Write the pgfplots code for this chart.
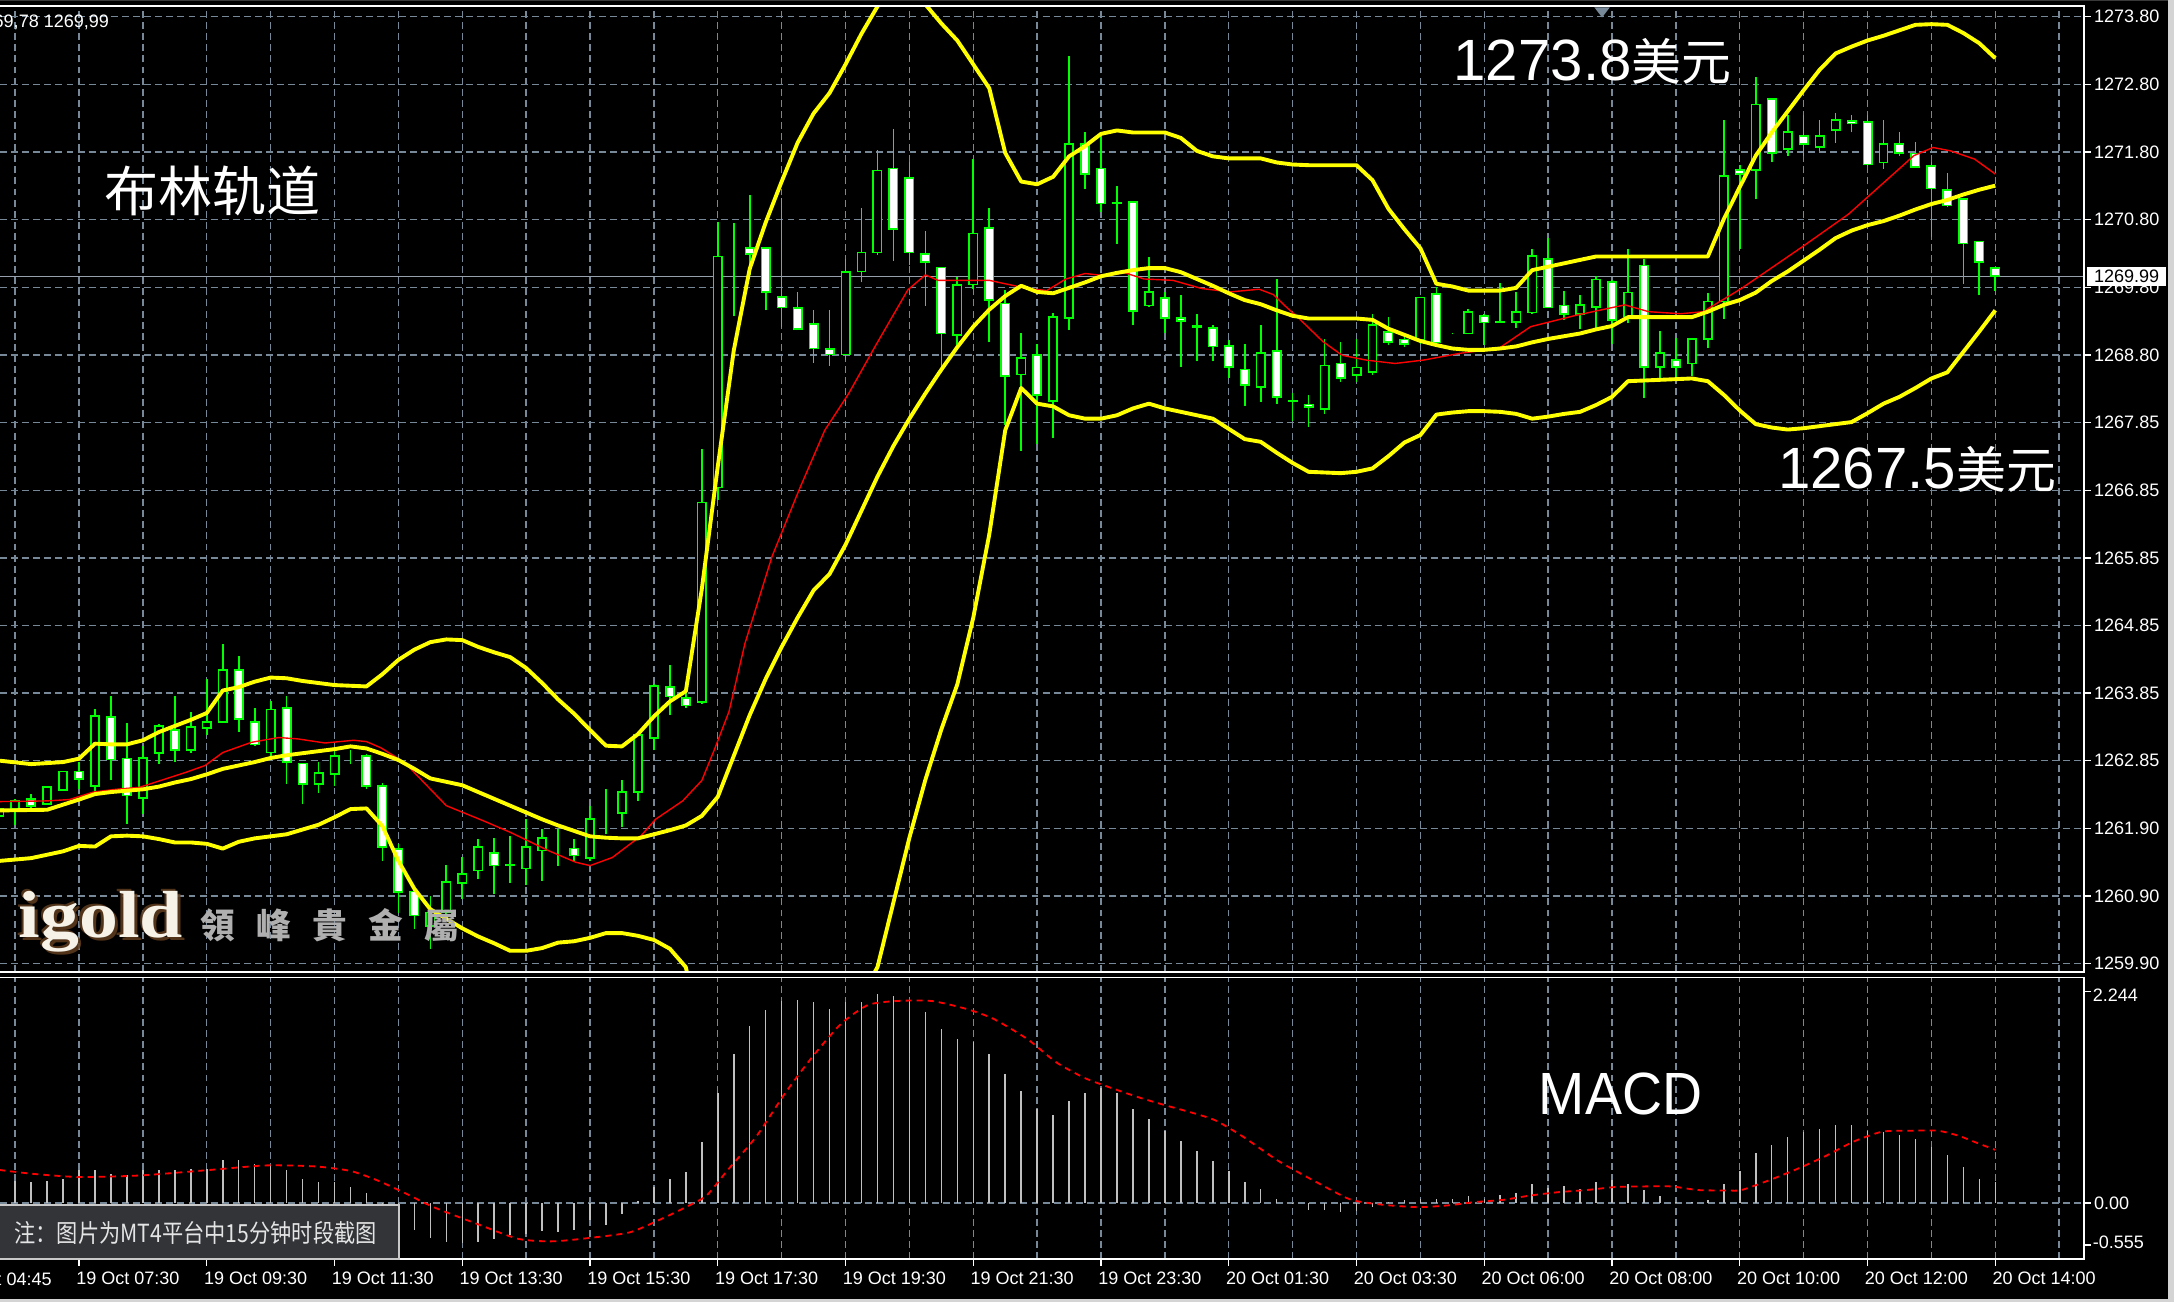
\documentclass[border=0pt]{standalone}
\usepackage{fontspec}
\setmainfont{Liberation Sans}
\newfontfamily\cjk{Noto Sans CJK SC}
\newfontfamily\cjktc{Noto Sans CJK TC}
\newfontfamily\logofont{Liberation Serif}
\usepackage{pgfplots}
\usepackage{pgfplotstable}
\pgfplotsset{compat=1.18}
\definecolor{gridc}{RGB}{119,136,153}
\definecolor{mtgreen}{RGB}{0,255,0}
\definecolor{mtyellow}{RGB}{255,255,0}
\definecolor{mtred}{RGB}{255,0,0}
\definecolor{silverc}{RGB}{192,192,192}
\definecolor{notebg}{RGB}{50,52,56}
\definecolor{notebd}{RGB}{200,200,200}
\definecolor{notetx}{RGB}{228,228,228}
\definecolor{pricel}{RGB}{150,160,172}
\definecolor{framec}{RGB}{212,212,212}
\definecolor{logobrown}{RGB}{95,60,30}
\definecolor{logowhite}{RGB}{246,242,232}
\definecolor{logogray}{RGB}{175,175,175}
\newcommand\lbl{\fontsize{6.5}{7.5}\selectfont}

\pgfplotstableread{
x o h l c
-5 1262.07 1262.22 1261.95 1262.17
-4 1262.17 1262.32 1261.93 1262.29
-3 1262.32 1262.39 1262.19 1262.22
-2 1262.24 1262.51 1262.23 1262.49
-1 1262.45 1262.72 1262.44 1262.72
0 1262.72 1262.86 1262.46 1262.61
1 1262.51 1263.64 1262.41 1263.54
2 1263.52 1263.83 1262.59 1262.90
3 1262.91 1263.43 1261.95 1262.37
4 1262.33 1263.10 1262.10 1262.92
5 1262.99 1263.42 1262.83 1263.39
6 1263.33 1263.83 1262.86 1263.04
7 1263.04 1263.60 1263.00 1263.37
8 1263.36 1264.08 1263.25 1263.45
9 1263.45 1264.60 1263.43 1264.21
10 1264.21 1264.42 1263.30 1263.49
11 1263.45 1263.66 1263.10 1263.12
12 1263.00 1263.76 1262.95 1263.63
13 1263.65 1263.83 1262.54 1262.86
14 1262.84 1262.84 1262.24 1262.54
15 1262.54 1262.86 1262.41 1262.70
16 1262.68 1263.03 1262.51 1262.95
17 1262.96 1263.03 1262.83 1262.96
18 1262.95 1262.98 1262.47 1262.51
19 1262.51 1262.55 1261.41 1261.61
20 1261.58 1261.66 1260.65 1260.95
21 1260.96 1260.99 1260.41 1260.61
22 1260.45 1260.90 1260.12 1260.65
23 1260.65 1261.35 1260.56 1261.10
24 1261.09 1261.46 1260.85 1261.22
25 1261.27 1261.73 1261.14 1261.61
26 1261.53 1261.74 1260.92 1261.34
27 1261.34 1261.78 1261.09 1261.35
28 1261.30 1262.02 1261.05 1261.61
29 1261.56 1261.88 1261.12 1261.75
30 1261.68 1261.88 1261.34 1261.68
31 1261.59 1261.73 1261.41 1261.49
32 1261.45 1262.22 1261.41 1262.02
33 1262.08 1262.46 1261.80 1262.08
34 1262.11 1262.59 1261.90 1262.42
35 1262.42 1263.26 1262.29 1263.26
36 1263.21 1264.00 1263.03 1263.98
37 1263.96 1264.28 1263.55 1263.82
38 1263.80 1263.93 1263.66 1263.69
39 1263.74 1267.45 1263.71 1266.67
40 1266.89 1270.78 1266.70 1270.28
41 1270.32 1270.77 1269.40 1270.32
42 1270.40 1271.18 1270.01 1270.32
43 1270.40 1270.40 1269.49 1269.76
44 1269.69 1271.14 1269.25 1269.53
45 1269.52 1269.76 1269.20 1269.22
46 1269.29 1269.49 1268.72 1268.93
47 1268.92 1269.49 1268.68 1268.84
48 1268.84 1270.24 1268.76 1270.05
49 1270.06 1270.99 1269.90 1270.34
50 1270.34 1271.85 1270.30 1271.54
51 1271.57 1272.15 1270.22 1270.68
52 1271.43 1271.67 1270.15 1270.34
53 1270.32 1270.65 1269.56 1270.20
54 1270.12 1270.12 1268.65 1269.15
55 1269.13 1269.98 1268.98 1269.86
56 1269.87 1271.71 1269.81 1270.62
57 1270.70 1270.99 1269.02 1269.64
58 1269.59 1269.79 1267.81 1268.53
59 1268.55 1269.15 1267.43 1268.79
60 1268.83 1269.00 1267.53 1268.25
61 1268.16 1269.45 1267.62 1269.39
62 1269.38 1273.22 1269.20 1271.93
63 1271.93 1272.10 1271.27 1271.49
64 1271.57 1272.07 1270.93 1271.06
65 1271.06 1271.32 1270.47 1271.07
66 1271.08 1271.08 1269.27 1269.48
67 1269.56 1270.27 1269.54 1269.76
68 1269.67 1269.76 1269.15 1269.38
69 1269.38 1269.71 1268.66 1269.33
70 1269.25 1269.44 1268.74 1269.26
71 1269.23 1269.27 1268.74 1268.96
72 1268.97 1269.06 1268.49 1268.66
73 1268.62 1268.99 1268.09 1268.39
74 1268.36 1269.28 1268.15 1268.86
75 1268.89 1269.95 1268.12 1268.22
76 1268.15 1268.27 1267.86 1268.16
77 1268.11 1268.25 1267.78 1268.07
78 1268.04 1269.07 1267.97 1268.68
79 1268.71 1269.03 1268.44 1268.50
80 1268.54 1269.07 1268.44 1268.65
81 1268.58 1269.44 1268.54 1269.27
82 1269.17 1269.39 1268.98 1269.03
83 1269.06 1269.12 1268.95 1269.00
84 1269.05 1269.68 1269.00 1269.68
85 1269.73 1269.83 1269.00 1269.02
86 1269.15 1269.16 1269.14 1269.15
87 1269.15 1269.51 1269.15 1269.47
88 1269.41 1269.44 1268.98 1269.31
89 1269.31 1269.89 1269.31 1269.32
90 1269.32 1269.76 1269.23 1269.47
91 1269.46 1270.39 1269.44 1270.29
92 1270.24 1270.55 1269.52 1269.53
93 1269.56 1269.77 1269.35 1269.44
94 1269.44 1269.71 1269.22 1269.57
95 1269.54 1270.00 1269.22 1269.94
96 1269.91 1269.93 1269.00 1269.35
97 1269.40 1270.39 1269.30 1269.75
98 1270.15 1270.25 1268.20 1268.66
99 1268.66 1269.18 1268.49 1268.86
100 1268.76 1269.08 1268.45 1268.66
101 1268.71 1269.08 1268.52 1269.07
102 1269.07 1269.75 1268.93 1269.62
103 1269.62 1272.29 1269.37 1271.46
104 1271.55 1271.63 1270.39 1271.49
105 1271.55 1272.92 1271.12 1272.51
106 1272.59 1272.59 1271.66 1271.80
107 1271.86 1272.36 1271.76 1272.11
108 1272.05 1272.36 1271.76 1271.93
109 1271.89 1272.29 1271.83 1272.05
110 1272.14 1272.38 1271.95 1272.28
111 1272.27 1272.36 1272.10 1272.23
112 1272.25 1272.36 1271.61 1271.63
113 1271.66 1272.29 1271.57 1271.93
114 1271.93 1272.11 1271.76 1271.80
115 1271.79 1271.96 1271.58 1271.59
116 1271.61 1271.66 1270.56 1271.28
117 1271.26 1271.50 1271.00 1271.03
118 1271.12 1271.12 1269.88 1270.47
119 1270.50 1270.50 1269.71 1270.20
120 1270.11 1270.11 1269.78 1269.99
}\candles

\pgfplotstableread{
x v
-5 0.22
-4 0.225
-3 0.21
-2 0.225
-1 0.24
0 0.325
1 0.325
2 0.29
3 0.275
4 0.325
5 0.325
6 0.325
7 0.34
8 0.34
9 0.425
10 0.425
11 0.39
12 0.375
13 0.325
14 0.24
15 0.21
16 0.21
17 0.16
18 0.10
19 -0.04
20 -0.205
21 -0.27
22 -0.345
23 -0.39
24 -0.40
25 -0.39
26 -0.355
27 -0.32
28 -0.305
29 -0.28
30 -0.29
31 -0.27
32 -0.17
33 -0.22
34 -0.11
35 0.02
36 0.16
37 0.24
38 0.31
39 0.61
40 1.10
41 1.48
42 1.76
43 1.92
44 2.01
45 2.02
46 2.00
47 1.93
48 2.00
49 2.00
50 2.08
51 2.06
52 2.01
53 1.90
54 1.73
55 1.63
56 1.60
57 1.48
58 1.28
59 1.12
60 0.94
61 0.88
62 1.02
63 1.10
64 1.14
65 1.10
66 0.94
67 0.84
68 0.72
69 0.62
70 0.52
71 0.42
72 0.32
73 0.21
74 0.14
75 0.04
76 0.005
77 -0.07
78 -0.07
79 -0.09
80 -0.08
81 -0.04
82 0.01
83 0.03
84 0.04
85 0.04
86 0.04
87 0.07
88 0.04
89 0.08
90 0.10
91 0.19
92 0.15
93 0.17
94 0.14
95 0.21
96 0.23
97 0.19
98 0.13
99 0.07
100 0.01
101 0.01
102 0.03
103 0.19
104 0.32
105 0.50
106 0.58
107 0.66
108 0.71
109 0.74
110 0.78
111 0.78
112 0.72
113 0.71
114 0.68
115 0.64
116 0.56
117 0.48
118 0.36
119 0.24
120 0.21
}\macdtab

\pgfplotsset{
  mtbase/.style={scale only axis, width=751.5pt, xmin=-4.95, xmax=125.55, anchor=south west},
  mainpos/.style={mtbase, at={(0pt,119pt)}, height=348.25pt},
  mtgrid/.style={draw=gridc, line width=0.5pt, dash pattern=on 2.5pt off 1.5pt},
}

\begin{document}
\begin{tikzpicture}
\useasboundingbox (0,0) rectangle (784pt,469.5pt);
\fill[black] (0,0) rectangle (784pt,469.5pt);
\begin{scope}
\clip (0,0) rectangle (784pt,469.5pt);

% ---------- main price panel: grid, labels, price line, wicks
\begin{axis}[mainpos,
  ymin=1259.78, ymax=1273.953,
  axis line style={draw=none},
  xtick={-4,0,...,124}, xticklabels={}, xtick style={draw=none},
  xmajorgrids, ymajorgrids, grid style={mtgrid},
  ytick={1259.900,1260.893,1261.886,1262.879,1263.871,1264.864,1265.857,1266.850,1267.843,1268.836,1269.829,1270.821,1271.814,1272.807,1273.800},
  yticklabels={1259.90,1260.90,1261.90,1262.85,1263.85,1264.85,1265.85,1266.85,1267.85,1268.80,1269.80,1270.80,1271.80,1272.80,1273.80},
  ytick pos=right, tick align=outside, major tick length=2.5pt,
  ytick style={draw=white, line width=0.5pt},
  yticklabel style={font=\lbl, text=white, anchor=west, inner sep=0pt, xshift=1pt},
]
\addplot[pricel, line width=0.5pt, forget plot] coordinates {(-6,1269.99) (127,1269.99)};
\addplot[draw=none, mark=none,
  error bars/.cd, y dir=plus, y explicit, error mark=none,
  error bar style={draw=mtgreen, line width=0.6pt, solid}]
  table[x=x, y=l, y error expr=\thisrow{h}-\thisrow{l}] {\candles};
\end{axis}

% ---------- candle bodies (floating stacked bars, offset 1259)
\begin{axis}[mainpos, ymin=0.78, ymax=14.953, hide axis, ybar stacked, bar width=3pt]
\addplot[draw=none, fill=none] table[x=x, y expr={min(\thisrow{o},\thisrow{c})-1259}] {\candles};
\addplot[fill=black, draw=mtgreen, line width=0.6pt] table[x=x, y expr={max(\thisrow{c}-\thisrow{o},0)}] {\candles};
\addplot[fill=white, draw=mtgreen, line width=0.6pt] table[x=x, y expr={max(\thisrow{o}-\thisrow{c},0)}] {\candles};
\end{axis}

% ---------- Bollinger bands and moving average
\begin{axis}[mainpos, ymin=1259.78, ymax=1273.953, hide axis]
\addplot[mtred, line width=0.5pt, line join=round] coordinates {
(-4.95,1262.28) (-2.0,1262.29) (-0.6,1262.31) (0.9,1262.42) (2.3,1262.46) (3.8,1262.49) (6.7,1262.71) (7.9,1262.81) (9.0,1263.00) (10.8,1263.15) (12.5,1263.22) (13.7,1263.20) (15.4,1263.14) (17.2,1263.18) (18.0,1263.16) (18.9,1263.07) (20.4,1262.85) (23.0,1262.22) (25.3,1262.00) (27.0,1261.83) (29.4,1261.56) (31.1,1261.39) (32.0,1261.34) (33.4,1261.46) (35.2,1261.78) (36.1,1262.02) (37.8,1262.29) (39.0,1262.59) (39.8,1263.05) (40.7,1263.60) (41.7,1264.60) (43.4,1265.88) (45.1,1266.86) (46.7,1267.73) (48.2,1268.27) (49.9,1268.98) (51.9,1269.79) (53.0,1270.01) (53.8,1269.93) (55.1,1269.93) (57.0,1269.93) (58.2,1269.87) (59.4,1269.81) (60.6,1269.78) (61.8,1269.95) (63.0,1270.03) (64.2,1270.00) (65.5,1270.04) (66.7,1269.95) (68.5,1269.93) (70.3,1269.81) (72.1,1269.76) (73.9,1269.80) (74.8,1269.72) (75.5,1269.56) (76.4,1269.37) (77.9,1269.03) (79.1,1268.83) (80.6,1268.76) (82.4,1268.71) (84.2,1268.76) (86.5,1268.86) (88.9,1268.93) (90.9,1269.25) (93.8,1269.42) (96.8,1269.57) (98.3,1269.47) (100.3,1269.44) (101.7,1269.47) (104.1,1269.81) (107.9,1270.42) (110.8,1270.90) (112.9,1271.34) (114.9,1271.76) (116.1,1271.88) (117.2,1271.83) (118.7,1271.71) (120.0,1271.49)};
\addplot[mtyellow, line width=1.4pt, line join=round] coordinates {
(-4.95,1262.88) (-3,1262.83) (-1,1262.86) (0,1262.91) (1,1263.13) (2,1263.12) (3,1263.12) (4,1263.18) (5,1263.30) (6,1263.39) (7,1263.48) (8,1263.58) (9,1263.91) (10,1263.96) (11,1264.04) (12,1264.10) (13,1264.09) (14,1264.05) (15,1264.02) (16,1263.99) (17,1263.98) (18,1263.97) (19,1264.15) (20,1264.36) (21,1264.51) (22,1264.62) (23,1264.66) (24,1264.65) (25,1264.55) (26,1264.47) (27,1264.40) (28,1264.24) (29,1264.02) (30,1263.78) (31,1263.57) (32,1263.33) (33,1263.10) (34,1263.09) (35,1263.27) (36,1263.53) (37,1263.75) (38,1263.90) (39,1265.40) (40,1267.20) (41,1268.90) (42,1270.10) (43,1270.78) (44,1271.38) (45,1271.95) (46,1272.38) (47,1272.68) (48,1273.10) (49,1273.55) (50,1273.95) (51,1274.25) (52,1274.25) (53,1273.98) (54,1273.70) (55,1273.45) (56,1273.10) (57,1272.75) (58,1271.80) (59,1271.38) (60,1271.34) (61,1271.45) (62,1271.75) (63,1271.90) (64,1272.08) (65,1272.13) (66,1272.10) (67,1272.10) (68,1272.10) (69,1272.02) (70,1271.83) (71,1271.75) (72,1271.72) (73,1271.72) (74,1271.72) (75,1271.66) (76,1271.63) (77,1271.62) (78,1271.62) (79,1271.62) (80,1271.62) (81,1271.40) (82,1270.98) (83,1270.68) (84,1270.40) (85,1269.88) (86,1269.84) (87,1269.78) (88,1269.78) (89,1269.78) (90,1269.82) (91,1270.08) (92,1270.13) (93,1270.18) (94,1270.23) (95,1270.28) (96,1270.28) (97,1270.28) (98,1270.28) (99,1270.28) (100,1270.28) (101,1270.28) (102,1270.28) (103,1270.83) (104,1271.30) (105,1271.76) (106,1272.10) (107,1272.41) (108,1272.72) (109,1273.02) (110,1273.26) (111,1273.36) (112,1273.45) (113,1273.52) (114,1273.60) (115,1273.68) (116,1273.69) (117,1273.68) (118,1273.56) (119,1273.41) (120,1273.19)};
\addplot[mtyellow, line width=1.4pt, line join=round] coordinates {
(-4.95,1262.15) (-2,1262.16) (0,1262.31) (1,1262.39) (2,1262.42) (3,1262.44) (4,1262.46) (5,1262.50) (6,1262.56) (7,1262.61) (8,1262.68) (9,1262.76) (10,1262.81) (11,1262.86) (12,1262.92) (13,1262.96) (14,1262.99) (15,1263.02) (16,1263.05) (17,1263.09) (18,1263.06) (19,1262.98) (20,1262.89) (21,1262.76) (22,1262.62) (23,1262.57) (24,1262.52) (25,1262.42) (26,1262.32) (27,1262.22) (28,1262.12) (29,1262.02) (30,1261.93) (31,1261.85) (32,1261.77) (33,1261.75) (34,1261.74) (35,1261.74) (36,1261.80) (37,1261.86) (38,1261.93) (39,1262.07) (40,1262.35) (41,1262.95) (42,1263.55) (43,1264.08) (44,1264.55) (45,1264.98) (46,1265.38) (47,1265.62) (48,1266.05) (49,1266.55) (50,1267.05) (51,1267.50) (52,1267.90) (53,1268.27) (54,1268.62) (55,1268.95) (56,1269.25) (57,1269.50) (58,1269.70) (59,1269.85) (60,1269.76) (61,1269.74) (62,1269.82) (63,1269.90) (64,1269.99) (65,1270.04) (66,1270.08) (67,1270.11) (68,1270.11) (69,1270.05) (70,1269.95) (71,1269.85) (72,1269.74) (73,1269.64) (74,1269.58) (75,1269.49) (76,1269.41) (77,1269.37) (78,1269.37) (79,1269.37) (80,1269.37) (81,1269.35) (82,1269.22) (83,1269.13) (84,1269.04) (85,1268.98) (86,1268.93) (87,1268.91) (88,1268.91) (89,1268.93) (90,1268.96) (91,1269.02) (92,1269.07) (93,1269.11) (94,1269.15) (95,1269.21) (96,1269.26) (97,1269.39) (98,1269.39) (99,1269.39) (100,1269.39) (101,1269.39) (102,1269.47) (103,1269.57) (104,1269.64) (105,1269.75) (106,1269.92) (107,1270.06) (108,1270.22) (109,1270.38) (110,1270.55) (111,1270.66) (112,1270.74) (113,1270.80) (114,1270.88) (115,1270.97) (116,1271.05) (117,1271.11) (118,1271.19) (119,1271.26) (120,1271.32)};
\addplot[mtyellow, line width=1.4pt, line join=round] coordinates {
(-4.95,1261.41) (-3,1261.45) (-1,1261.55) (0,1261.63) (1,1261.62) (2,1261.77) (3,1261.78) (4,1261.77) (5,1261.73) (6,1261.68) (7,1261.68) (8,1261.66) (9,1261.59) (10,1261.69) (11,1261.74) (12,1261.77) (13,1261.80) (14,1261.87) (15,1261.94) (16,1262.05) (17,1262.17) (18,1262.18) (19,1261.92) (20,1261.41) (21,1261.00) (22,1260.70) (23,1260.56) (24,1260.42) (25,1260.30) (26,1260.20) (27,1260.09) (28,1260.09) (29,1260.13) (30,1260.21) (31,1260.23) (32,1260.28) (33,1260.35) (34,1260.35) (35,1260.31) (36,1260.25) (37,1260.12) (38,1259.85) (39,1258.70) (40,1257.60) (42,1257.20) (44,1257.50) (46,1258.20) (48,1259.00) (50,1259.85) (51,1260.80) (52,1261.75) (53,1262.60) (54,1263.34) (55,1264.00) (56,1264.98) (57,1266.20) (58,1267.73) (59,1268.35) (60,1268.12) (61,1268.08) (62,1267.95) (63,1267.90) (64,1267.90) (65,1267.95) (66,1268.05) (67,1268.12) (68,1268.05) (69,1268.00) (70,1267.95) (71,1267.90) (72,1267.75) (73,1267.60) (74,1267.56) (75,1267.40) (76,1267.25) (77,1267.12) (78,1267.11) (79,1267.10) (80,1267.12) (81,1267.17) (82,1267.35) (83,1267.55) (84,1267.66) (85,1267.96) (86,1267.99) (87,1268.01) (88,1268.01) (89,1268.00) (90,1267.97) (91,1267.90) (92,1267.93) (93,1267.97) (94,1268.00) (95,1268.10) (96,1268.22) (97,1268.45) (98,1268.46) (99,1268.47) (100,1268.48) (101,1268.49) (102,1268.45) (103,1268.25) (104,1268.02) (105,1267.82) (106,1267.77) (107,1267.74) (108,1267.76) (109,1267.79) (110,1267.82) (111,1267.85) (112,1267.98) (113,1268.12) (114,1268.22) (115,1268.35) (116,1268.49) (117,1268.58) (118,1268.88) (119,1269.18) (120,1269.49)};
\end{axis}

% ---------- MACD panel
\begin{axis}[mtbase, at={(0pt,15.5pt)}, height=101.5pt,
  ymin=-0.555, ymax=2.244,
  axis line style={draw=none},
  xtick={0,8,...,120},
  xticklabels={19 Oct 07:30,19 Oct 09:30,19 Oct 11:30,19 Oct 13:30,19 Oct 15:30,19 Oct 17:30,19 Oct 19:30,19 Oct 21:30,19 Oct 23:30,20 Oct 01:30,20 Oct 03:30,20 Oct 06:00,20 Oct 08:00,20 Oct 10:00,20 Oct 12:00,20 Oct 14:00},
  minor xtick={-4,4,...,124},
  xmajorgrids, xminorgrids, ymajorgrids,
  grid style={mtgrid}, minor grid style={mtgrid},
  ytick={0}, yticklabels={0.00},
  xtick pos=left, ytick pos=right, tick align=outside,
  major tick length=2.5pt, minor tick length=0pt,
  tick style={draw=white, line width=0.5pt},
  xticklabel style={font=\lbl, text=white, anchor=north west, inner sep=0pt, xshift=-1.2pt, yshift=-2pt},
  yticklabel style={font=\lbl, text=white, anchor=west, inner sep=0pt, xshift=1pt},
]
\addplot[ycomb, draw=silverc, line width=0.55pt, mark=none] table[x=x, y=v] {\macdtab};
\addplot[mtred, line width=0.65pt, dash pattern=on 2.2pt off 1.8pt, smooth, tension=0.4] coordinates {
(-5,0.33) (-2.8,0.29) (0,0.26) (3.8,0.275) (8.2,0.33) (11.7,0.375) (14.8,0.365) (17,0.32) (18.7,0.225) (20.5,0.093) (22.2,-0.04) (24.9,-0.205) (27.5,-0.355) (29.7,-0.38) (32.3,-0.34) (34.5,-0.29) (36.3,-0.17) (38,-0.04) (39.3,0.076) (40.6,0.325) (42.4,0.66) (44.2,1.09) (45.9,1.45) (47.7,1.78) (49.4,1.97) (51.2,2.01) (53.4,2.01) (55.6,1.93) (57.3,1.83) (59.4,1.63) (61.2,1.40) (62.9,1.25) (64.2,1.17) (66.4,1.05) (68.1,0.97) (69.9,0.89) (71.2,0.82) (72.9,0.66) (75.1,0.42) (77.3,0.225) (79.5,0.043) (80.8,0) (82.1,-0.023) (83.9,-0.04) (85.7,-0.023) (87.4,0.01) (89.2,0.033) (90.9,0.076) (92.7,0.11) (94.4,0.13) (96.2,0.16) (97.9,0.166) (99.7,0.166) (101.4,0.13) (103.2,0.126) (104.1,0.13) (105.8,0.225) (107.6,0.34) (109.4,0.47) (111.1,0.61) (112.9,0.71) (114.6,0.72) (116.4,0.72) (117.7,0.67) (119,0.59) (120,0.53)};
\end{axis}

% ---------- panel borders and frame
\draw[white, line width=0.7pt] (-1pt,467.25pt) -- (751.5pt,467.25pt) -- (751.5pt,119pt) -- (-1pt,119pt);
\draw[white, line width=0.7pt] (-1pt,117pt) -- (751.5pt,117pt) -- (751.5pt,15.5pt) -- (-1pt,15.5pt);
\draw[white, line width=0.5pt] (751.5pt,112pt) -- (754pt,112pt);
\draw[white, line width=0.5pt] (751.5pt,20.5pt) -- (754pt,20.5pt);
\fill[gray!45!black] (0,469pt) rectangle (784pt,469.5pt);
\fill[framec] (781.8pt,0) rectangle (784pt,469.5pt);
\fill[framec] (0,0) rectangle (784pt,1pt);
\fill[gridc] (575pt,466.8pt) -- (580.5pt,466.8pt) -- (577.75pt,463.2pt) -- cycle;

% ---------- axis texts outside tick machinery
\node[font=\lbl, text=white, anchor=west, inner sep=0pt] at (754.5pt,110.5pt) {2.244};
\node[font=\lbl, text=white, anchor=west, inner sep=0pt] at (754.5pt,21.5pt) {-0.555};
\node[font=\lbl, text=white, anchor=north west, inner sep=0pt] at (-18.8pt,10.5pt) {19 Oct 04:45};
\node[font=\lbl, text=white, anchor=east, inner sep=0pt] at (39.5pt,461.5pt) {1269,78 1269,99};
\node[fill=white, text=black, font=\lbl, inner sep=0pt, anchor=west, minimum width=28.6pt, minimum height=6.8pt] at (752.4pt,369.8pt) {1269.99};

% ---------- annotations
\node[text=white, anchor=center, inner sep=0pt] at (76.75pt,400.5pt) {\cjk\fontsize{19.5}{20}\selectfont 布林轨道};
\node[text=white, anchor=base west, inner sep=0pt] at (524pt,440.5pt) {\fontsize{21}{22}\selectfont 1273.8{\cjk\fontsize{18}{18}\selectfont 美元}};
\node[text=white, anchor=base west, inner sep=0pt] at (641pt,293.5pt) {\fontsize{21}{22}\selectfont 1267.5{\cjk\fontsize{18}{18}\selectfont 美元}};
\node[text=white, anchor=base west, inner sep=0pt] at (554.75pt,67.5pt) {\scalebox{0.93}[1]{\fontsize{21.5}{22}\selectfont MACD}};

% note box
\draw[notebd, line width=0.8pt, fill=notebg] (-1pt,15.5pt) rectangle (143.75pt,35pt);
\node[text=notetx, anchor=west, inner sep=0pt] at (5pt,25pt) {\scalebox{0.85}[1]{\cjk\fontsize{9}{9}\selectfont 注：图片为MT4平台中15分钟时段截图}};

% igold logo
\foreach \dx/\dy in {-0.8/0.6,1.1/-1.0} {
  \node[text=logobrown, anchor=base west, inner sep=0pt, opacity=0.85] at (6.5pt+\dx pt,131.5pt+\dy pt) {\scalebox{1.17}[1]{\logofont\bfseries\fontsize{24}{24}\selectfont igold}};
}
\node[text=logowhite, anchor=base west, inner sep=0pt] at (6.5pt,131.5pt) {\scalebox{1.17}[1]{\logofont\bfseries\fontsize{24}{24}\selectfont igold}};
\node[text=logogray, anchor=west, inner sep=0pt] at (72pt,136pt) {\cjktc\bfseries\fontsize{12.5}{13}\selectfont 領\hspace{7.7pt}峰\hspace{7.7pt}貴\hspace{7.7pt}金\hspace{7.7pt}屬};
\end{scope}
\end{tikzpicture}
\end{document}
